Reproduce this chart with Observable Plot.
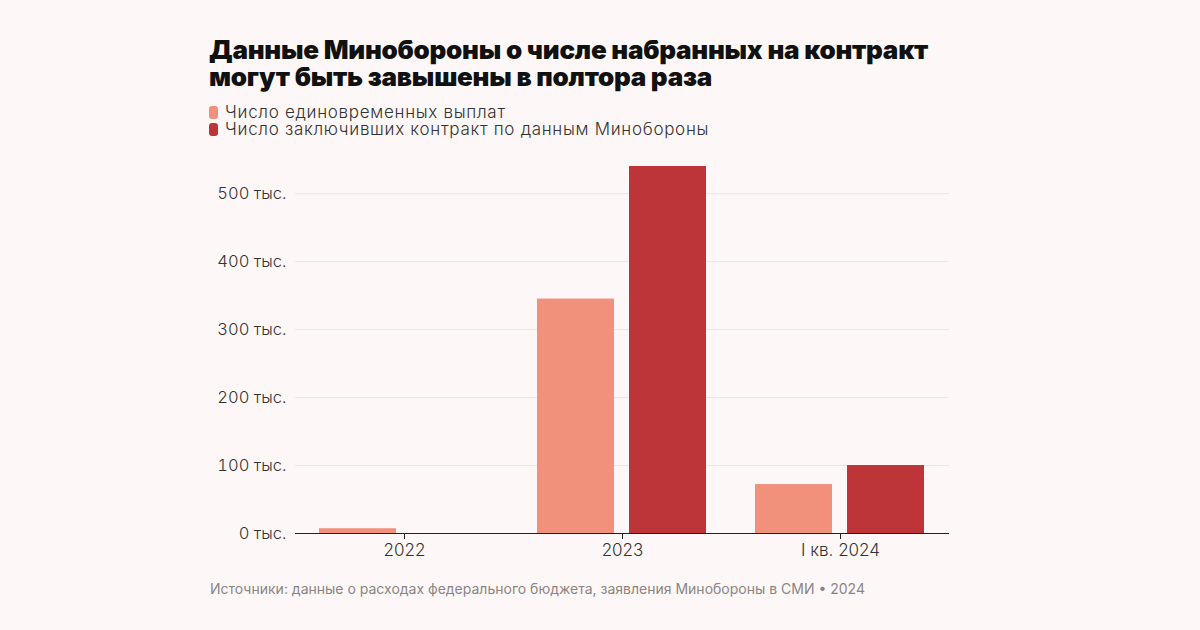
<!DOCTYPE html>
<html>
<head>
<meta charset="utf-8">
<script src="https://cdn.jsdelivr.net/npm/d3@7"></script>
<script src="https://cdn.jsdelivr.net/npm/@observablehq/plot@0.6"></script>
<style>
  html, body { margin: 0; padding: 0; background: #fdf8f7; }
  body { width: 1200px; height: 630px; position: relative; overflow: hidden; font-family: Inter, "Noto Sans", sans-serif; }
  #title { position: absolute; left: 209px; top: 36px; font-family: Inter, sans-serif; font-weight: 900; font-size: 26px; line-height: 27px; color: #111; letter-spacing: -0.25px; }
  #legend { position: absolute; left: 209px; top: 104px; font-size: 17px; line-height: 17px; color: #333; font-weight: 300; letter-spacing: 0.7px; }
  .item { display: flex; align-items: center; height: 17px; }
  .sw { width: 9px; height: 13px; border-radius: 3px; margin-right: 7px; }
  #chart { position: absolute; left: 210px; top: 150px; }
  #source { position: absolute; left: 210px; top: 580px; font-family: Inter, sans-serif; font-size: 14px; color: #8a8585; }
</style>
</head>
<body>
<div id="title">Данные Минобороны о числе набранных на контракт<br>могут быть завышены в полтора раза</div>
<div id="legend"></div>
<div id="chart"></div>
<div id="source">Источники: данные о расходах федерального бюджета, заявления Минобороны в СМИ • 2024</div>
<script>
const years = ["2022", "2023", "I кв. 2024"];
const series = ["Число единовременных выплат", "Число заключивших контракт по данным Минобороны"];
const payments = [7, 345, 72];      // тыс.
const mod = [null, 540, 100];       // тыс.
const yTicks = [0, 100, 200, 300, 400, 500];
const colors = ["#f1907b", "#bd3539"];

const data = [];
years.forEach((y, i) => {
  if (payments[i] != null) data.push({year: y, series: series[0], value: payments[i]});
  if (mod[i] != null) data.push({year: y, series: series[1], value: mod[i]});
});

const legend = document.getElementById("legend");
series.forEach((s, i) => {
  const it = document.createElement("div");
  it.className = "item";
  it.innerHTML = `<span class="sw" style="background:${colors[i]}"></span><span>${s}</span>`;
  legend.appendChild(it);
});

const chart = Plot.plot({
  width: 740,
  height: 415,
  marginLeft: 85,
  marginRight: 1,
  marginTop: 16,
  marginBottom: 32,
  style: {background: "transparent", fontFamily: "Inter, sans-serif", color: "#333"},
  fx: {domain: years, padding: 0, label: null},
  x: {domain: series, paddingInner: 0.161, paddingOuter: 0.253, axis: null},
  y: {domain: [0, 540], label: null},
  color: {domain: series, range: colors},
  marks: [
    Plot.gridY(yTicks, {stroke: "#ece5e3", strokeOpacity: 1}),
    Plot.axisY(yTicks, {tickSize: 0, tickPadding: 9, fontSize: 16.5, tickFormat: d => d + " тыс.", label: null, fill: "#333", fontWeight: 300}),
    Plot.barY(data, {fx: "year", x: "series", y: "value", fill: "series"}),
    Plot.ruleY([0], {stroke: "#222", strokeWidth: 1.2}),
    Plot.axisFx({anchor: "bottom", tickSize: 6, tickPadding: 4, fontSize: 17, label: null, stroke: "#222", fill: "#333", fontWeight: 300})
  ]
});
document.getElementById("chart").appendChild(chart);
</script>
</body>
</html>
